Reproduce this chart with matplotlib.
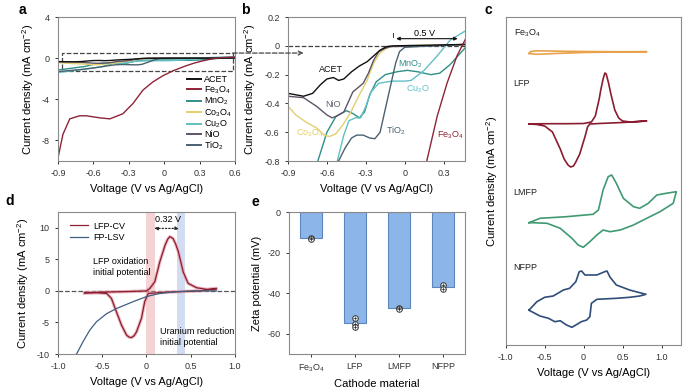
import numpy as np
import matplotlib.pyplot as plt
from matplotlib.patches import Rectangle, ConnectionPatch

plt.rcParams['font.family'] = ['Liberation Sans', 'DejaVu Sans']
plt.rcParams['mathtext.default'] = 'regular'

# ---------------- data: panels a & b (LSV of catalysts) ----------------
materials = ['ACET', 'Fe3O4', 'MnO2', 'Co3O4', 'Cu2O', 'NiO', 'TiO2']
mat_labels = ['ACET', 'Fe$_3$O$_4$', 'MnO$_2$', 'Co$_3$O$_4$', 'Cu$_2$O', 'NiO', 'TiO$_2$']
mat_colors = ['#111111', '#8e2437', '#2f8f86', '#e2cf6e', '#62c0c4', '#5f5466', '#4a6270']

acet_v = [-0.9, -0.78, -0.71, -0.65, -0.6, -0.55, -0.51, -0.47, -0.41, -0.35, -0.29, -0.24, -0.19, -0.14, -0.09, 0.2, 0.47, 0.6]
acet_j = [-0.33, -0.35, -0.33, -0.27, -0.23, -0.22, -0.24, -0.23, -0.18, -0.14, -0.11, -0.07, -0.03, -0.005, 0.0, 0.005, 0.01, 0.03]

fe_v = [-0.9, -0.858, -0.8, -0.716, -0.66, -0.547, -0.46, -0.35, -0.264, -0.18, -0.095, -0.01, 0.08, 0.17, 0.25, 0.326, 0.403, 0.47, 0.6]
fe_j = [-9.7, -7.4, -5.9, -5.6, -5.6, -5.8, -5.9, -5.4, -4.4, -3.1, -2.3, -1.7, -1.2, -0.8, -0.49, -0.26, -0.07, 0.05, 0.12]

mno_v = [-0.9, -0.8, -0.67, -0.6, -0.53, -0.45, -0.4, -0.35, -0.31, -0.27, -0.22, -0.15, -0.06, 0.02, 0.1, 0.2, 0.27, 0.35, 0.42, 0.47, 0.6]
mno_j = [-1.15, -1.0, -0.8, -0.6, -0.49, -0.45, -0.47, -0.5, -0.46, -0.34, -0.25, -0.2, -0.18, -0.17, -0.18, -0.2, -0.19, -0.13, -0.06, -0.01, 0.05]

co_v = [-0.9, -0.84, -0.76, -0.68, -0.62, -0.58, -0.53, -0.47, -0.41, -0.35, -0.29, -0.24, -0.19, -0.14, -0.08, 0.2, 0.47, 0.6]
co_j = [-0.42, -0.48, -0.53, -0.57, -0.62, -0.63, -0.61, -0.54, -0.45, -0.34, -0.24, -0.12, -0.05, -0.016, 0.0, 0.005, 0.01, 0.03]

cu_v = [-0.9, -0.7, -0.6, -0.52, -0.47, -0.43, -0.38, -0.34, -0.3, -0.26, -0.2, -0.1, 0.0, 0.05, 0.15, 0.25, 0.35, 0.46, 0.6]
cu_j = [-1.4, -1.1, -0.95, -0.8, -0.62, -0.52, -0.5, -0.5, -0.42, -0.32, -0.26, -0.245, -0.245, -0.24, -0.17, -0.07, 0.04, 0.1, 0.15]

nio_v = [-0.9, -0.78, -0.68, -0.6, -0.56, -0.53, -0.47, -0.44, -0.4, -0.36, -0.32, -0.28, -0.24, -0.2, -0.16, -0.11, 0.2, 0.47, 0.6]
nio_j = [-0.35, -0.36, -0.42, -0.48, -0.5, -0.49, -0.46, -0.4, -0.32, -0.29, -0.26, -0.19, -0.1, -0.04, -0.02, -0.005, 0.0, 0.01, 0.02]

tio_v = [-0.9, -0.7, -0.6, -0.51, -0.46, -0.41, -0.37, -0.32, -0.27, -0.23, -0.19, -0.16, -0.13, -0.1, -0.07, -0.04, 0.0, 0.2, 0.47, 0.6]
tio_j = [-1.3, -1.1, -0.95, -0.8, -0.71, -0.64, -0.62, -0.62, -0.64, -0.645, -0.6, -0.48, -0.36, -0.24, -0.12, -0.04, -0.01, 0.0, 0.01, 0.02]

lsv_v = [acet_v, fe_v, mno_v, co_v, cu_v, nio_v, tio_v]
lsv_j = [acet_j, fe_j, mno_j, co_j, cu_j, nio_j, tio_j]

# ---------------- data: panel c (CV, arbitrary units, offsets) ----------------
cv_names = ['Fe$_3$O$_4$', 'LFP', 'LMFP', 'NFPP']
cv_colors = ['#e8a24c', '#8a1d30', '#3f9a72', '#2f4d78']
cv_offsets = [293, 221, 123, 45]

fe_cv_v = [-0.70, -0.68, -0.6, -0.3, 0.0, 0.4, 0.81, 0.4, 0.0, -0.3, -0.6, -0.70]
fe_cv_j = [-1.5, 0.5, 1.2, 0.8, 0.5, 0.3, 0.3, 0.0, -0.5, -1.3, -2.3, -1.5]

lfp_cv_v = [-0.70, -0.6, -0.4, -0.2, 0.0, 0.1, 0.15, 0.2, 0.22, 0.25, 0.273, 0.29, 0.32, 0.35, 0.4, 0.45, 0.5, 0.6, 0.81,
            0.5, 0.2, 0.08, 0.05, 0.02, -0.05, -0.1, -0.13, -0.167, -0.2, -0.25, -0.3, -0.4, -0.5, -0.6, -0.70]
lfp_cv_j = [0.0, 0.2, 0.3, 0.3, 0.5, 2, 8, 25, 34, 45, 51, 50, 41, 30, 14, 6, 3, 2, 3,
            1.5, 0.5, 0.0, -3, -12, -30, -38, -42, -43, -41, -35, -25, -8, -2, -0.5, 0.0]

lmfp_cv_v = [-0.70, -0.56, -0.22, 0.12, 0.19, 0.25, 0.315, 0.36, 0.42, 0.51, 0.64, 0.72, 0.83, 0.94, 1.06, 1.19,
             1.15, 0.98, 0.81, 0.64, 0.47, 0.34, 0.25, 0.17, 0.08, -0.005, -0.07, -0.15, -0.30, -0.47, -0.65, -0.70]
lmfp_cv_j = [-0.7, 3.7, 5.3, 7.7, 12, 32, 45.3, 47, 38.7, 23.7, 15.3, 13.7, 18.7, 27, 28.7, 30.3,
             18.7, 10.3, 3.7, -3, -8, -9.7, -8, -13, -19.7, -25.3, -23, -16.3, -6.3, -1.3, -0.7, -0.7]

nfpp_cv_v = [-0.70, -0.60, -0.50, -0.39, -0.26, -0.18, -0.10, -0.056, -0.026, 0.017, 0.17, 0.27, 0.30, 0.34, 0.42, 0.59, 0.72, 0.80,
             0.72, 0.59, 0.42, 0.17, 0.10, 0.08, 0.04, -0.03, -0.10, -0.15, -0.22, -0.30, -0.37, -0.45, -0.56, -0.69, -0.70]
nfpp_cv_j = [-10, -1.7, 2.7, 4, 10, 11.7, 18.3, 28.3, 29, 25, 25, 28.3, 29, 22.7, 15, 10, 7.3, 5.7,
             4, 2.7, 1.7, 0.7, -3.3, -16.7, -20, -21.7, -25, -27.3, -25, -20.7, -21.7, -18.3, -16, -10.7, -10]

cv_v = [fe_cv_v, lfp_cv_v, lmfp_cv_v, nfpp_cv_v]
cv_j = [fe_cv_j, lfp_cv_j, lmfp_cv_j, nfpp_cv_j]

# ---------------- data: panel d ----------------
lfpcv_v = [-0.70, -0.5, -0.2, 0.0, 0.038, 0.094, 0.15, 0.21, 0.24, 0.264, 0.30, 0.33, 0.36, 0.415, 0.47, 0.566, 0.68, 0.79,
           0.79, 0.6, 0.23, 0.02, -0.02, -0.057, -0.113, -0.14, -0.17, -0.2, -0.226, -0.283, -0.34, -0.396, -0.45, -0.566, -0.70]
lfpcv_j = [-0.3, -0.2, -0.1, 0.0, 0.4, 1.45, 4.6, 7.25, 8.2, 8.6, 8.3, 7.4, 6.2, 3.0, 1.2, 0.5, 0.24, 0.4,
           0.3, 0.0, -0.2, -0.4, -1.7, -4.35, -6.5, -7.1, -7.4, -7.3, -7.0, -5.4, -3.3, -1.2, -0.4, -0.3, -0.3]
fplsv_v = [-0.79, -0.717, -0.64, -0.566, -0.45, -0.34, -0.15, 0.0, 0.15, 0.34, 0.53, 0.79]
fplsv_j = [-10, -8.05, -6.2, -4.9, -3.6, -2.8, -1.7, -0.9, -0.4, -0.13, 0.0, 0.0]

# ---------------- data: panel e ----------------
cathodes = ['Fe$_3$O$_4$', 'LFP', 'LMFP', 'NFPP']
zeta_mean = [-12.6, -54.8, -47.5, -37.2]
zeta_points = [[-12.8, -13.4], [-52.4, -55.3, -56.8], [-47.1, -47.8], [-36.0, -37.8]]

TICK_FS = 6.5
LAB_FS = 8
GRAY = '#8a8a8a'


def style(ax):
    for s in ax.spines.values():
        s.set_color(GRAY)
        s.set_linewidth(0.8)
    ax.tick_params(labelsize=TICK_FS, colors='#333333', width=0.7, length=2.5, direction='out')
    for t in ax.get_xticklabels() + ax.get_yticklabels():
        t.set_color('#333333')


fig = plt.figure(figsize=(6.92, 3.88), dpi=100)
fig.patch.set_facecolor('white')

ax_a = fig.add_axes([0.0838, 0.585, 0.2558, 0.371])
ax_b = fig.add_axes([0.4162, 0.585, 0.2558, 0.371])
ax_c = fig.add_axes([0.7308, 0.1108, 0.2533, 0.8454])
ax_d = fig.add_axes([0.0838, 0.0876, 0.2558, 0.366])
ax_e = fig.add_axes([0.4176, 0.0876, 0.2543, 0.366])

# ─── a ───
order_a = [2, 4, 3, 5, 6, 0, 1]
for i in order_a:
    ax_a.plot(lsv_v[i], lsv_j[i], color=mat_colors[i], lw=1.0)
handles = [plt.Line2D([], [], color=mat_colors[i], lw=1.4) for i in range(len(materials))]
ax_a.legend(handles, mat_labels, loc='lower right', bbox_to_anchor=(1.02, 0.02), frameon=False,
            fontsize=TICK_FS, handlelength=1.5, handletextpad=0.4, labelspacing=0.0,
            borderaxespad=0.3)
ax_a.add_patch(Rectangle((-0.87, -1.2), 1.45, 1.7, fill=False, ls='--', lw=0.9,
                         ec='#444444', clip_on=False))
ax_a.set_xlim(-0.9, 0.6)
ax_a.set_ylim(-10, 4)
ax_a.set_xticks([-0.9, -0.6, -0.3, 0, 0.3, 0.6])
ax_a.set_xticklabels(['-0.9', '-0.6', '-0.3', '0', '0.3', '0.6'])
ax_a.set_yticks([4, 0, -4, -8])
ax_a.set_yticklabels(['4', '0', '-4', '-8'])
ax_a.set_xlabel('Voltage (V vs Ag/AgCl)', fontsize=LAB_FS)
ax_a.set_ylabel('Current density (mA cm$^{-2}$)', fontsize=LAB_FS)
style(ax_a)

# ─── b ───
ax_b.axhline(0, color='#444444', ls='--', lw=0.9, zorder=0)
for i in order_a:
    ax_b.plot(lsv_v[i], lsv_j[i], color=mat_colors[i], lw=1.0)
ax_b.set_xlim(-0.9, 0.465)
ax_b.set_ylim(-0.8, 0.2)
ax_b.set_xticks([-0.9, -0.6, -0.3, 0, 0.3])
ax_b.set_xticklabels(['-0.9', '-0.6', '-0.3', '0', '0.3'])
ax_b.set_yticks([0.2, 0, -0.2, -0.4, -0.6, -0.8])
ax_b.set_yticklabels(['0.2', '0', '-0.2', '-0.4', '-0.6', '-0.8'])
ax_b.set_xlabel('Voltage (V vs Ag/AgCl)', fontsize=LAB_FS)
ax_b.set_ylabel('Current density (mA cm$^{-2}$)', fontsize=LAB_FS)
b_text_pos = {0: (-0.565, -0.167), 1: (0.35, -0.62), 2: (0.04, -0.13), 3: (-0.73, -0.61),
              4: (0.1, -0.3), 5: (-0.55, -0.41), 6: (-0.07, -0.59)}
for i, (x, y) in b_text_pos.items():
    c = '#111111' if i == 0 else mat_colors[i]
    if i == 5:
        c = '#6a6170'
    ax_b.text(x, y, mat_labels[i], color=c, fontsize=TICK_FS, ha='center', va='center')
ax_b.annotate('', xy=(0.43, 0.05), xytext=(-0.087, 0.05),
              arrowprops=dict(arrowstyle='<|-|>', lw=0.8, color='#111111', mutation_scale=5))
ax_b.plot([-0.09, -0.09], [0.06, 0.09], color='#111111', lw=0.6)
ax_b.text(0.15, 0.085, '0.5 V', fontsize=TICK_FS, ha='center', va='center')
style(ax_b)

con = ConnectionPatch(xyA=(0.58, 0.5), coordsA=ax_a.transData,
                      xyB=(-0.78, -0.05), coordsB=ax_b.transData,
                      arrowstyle='->', ls='--', lw=0.9, color='#444444', mutation_scale=7)
fig.add_artist(con)

# ─── c ───
for name, col, off, v, j in zip(cv_names, cv_colors, cv_offsets, cv_v, cv_j):
    ax_c.plot(v, np.array(j) + off, color=col, lw=1.2)
c_label_y = [312, 261, 153, 78]
for name, y in zip(cv_names, c_label_y):
    ax_c.text(-0.9, y, name, fontsize=TICK_FS, ha='left', va='center', color='#222222')
ax_c.set_xlim(-1.0, 1.25)
ax_c.set_ylim(0, 328)
ax_c.set_yticks([])
ax_c.set_xticks([-1.0, -0.5, 0, 0.5, 1.0])
ax_c.set_xticklabels(['-1.0', '-0.5', '0', '0.5', '1.0'])
ax_c.set_xlabel('Voltage (V vs Ag/AgCl)', fontsize=LAB_FS)
ax_c.set_ylabel('Current density (mA cm$^{-2}$)', fontsize=LAB_FS)
style(ax_c)

# ─── d ───
ax_d.axvspan(0.0, 0.094, color='#f3c9ca', alpha=0.8, lw=0, zorder=0)
ax_d.axvspan(0.34, 0.434, color='#c8d5ee', alpha=0.8, lw=0, zorder=0)
ax_d.axhline(0, color='#555555', ls='--', lw=0.9, zorder=1)
ax_d.plot(lfpcv_v, lfpcv_j, color='#e59aa5', lw=2.4, alpha=0.7, zorder=2)
l1, = ax_d.plot(lfpcv_v, lfpcv_j, color='#8a1d30', lw=0.9, zorder=3)
l2, = ax_d.plot(fplsv_v, fplsv_j, color='#3f5f80', lw=0.9, zorder=3)
ax_d.legend([l1, l2], ['LFP-CV', 'FP-LSV'], loc='upper left', bbox_to_anchor=(0.02, 0.99), frameon=False,
            fontsize=TICK_FS, handlelength=2.0, handletextpad=0.6, labelspacing=0.3)
ax_d.annotate('', xy=(0.40, 9.9), xytext=(0.055, 9.9),
              arrowprops=dict(arrowstyle='<|-|>', ls=':', lw=0.9, color='#222222', mutation_scale=5))
ax_d.text(0.245, 11.3, '0.32 V', fontsize=TICK_FS, ha='center', va='center')
ax_d.text(-0.6, 3.8, 'LFP oxidation\ninitial potential', fontsize=TICK_FS, ha='left', va='center',
          linespacing=1.3)
ax_d.text(0.15, -7.3, 'Uranium reduction\ninitial potential', fontsize=TICK_FS, ha='left', va='center',
          linespacing=1.3)
ax_d.set_xlim(-1.0, 1.0)
ax_d.set_ylim(-10, 12.5)
ax_d.set_xticks([-1.0, -0.5, 0, 0.5, 1.0])
ax_d.set_xticklabels(['-1.0', '-0.5', '0', '0.5', '1.0'])
ax_d.set_yticks([10, 5, 0, -5, -10])
ax_d.set_yticklabels(['10', '5', '0', '-5', '-10'])
ax_d.set_xlabel('Voltage (V vs Ag/AgCl)', fontsize=LAB_FS)
ax_d.set_ylabel('Current density (mA cm$^{-2}$)', fontsize=LAB_FS)
style(ax_d)

# ─── e ───
xpos = np.arange(len(cathodes))
ax_e.bar(xpos, zeta_mean, width=0.5, color='#8cb5e9', edgecolor='#5d86bd', lw=0.8)
for x, pts in zip(xpos, zeta_points):
    ax_e.scatter([x] * len(pts), pts, s=16, facecolor='white', edgecolor='#333333', lw=0.7, zorder=3)
    ax_e.scatter([x] * len(pts), pts, s=8, marker='+', color='#333333', lw=0.5, zorder=4)
ax_e.set_xlim(-0.5, 3.5)
ax_e.set_ylim(-70, 0)
ax_e.set_xticks(xpos)
ax_e.set_xticklabels(cathodes)
ax_e.set_yticks([0, -20, -40, -60])
ax_e.set_yticklabels(['0', '-20', '-40', '-60'])
ax_e.set_xlabel('Cathode material', fontsize=LAB_FS)
ax_e.set_ylabel('Zeta potential (mV)', fontsize=LAB_FS)
style(ax_e)

# panel letters
for lab, (px, py) in zip('abcde', [(22, 10), (245, 10), (488, 10), (10, 201), (255, 202)]):
    fig.text(px / 692, 1 - py / 388, lab, fontsize=10, fontweight='bold', ha='center', va='center')

fig.savefig('out.png', dpi=100, facecolor='white')
